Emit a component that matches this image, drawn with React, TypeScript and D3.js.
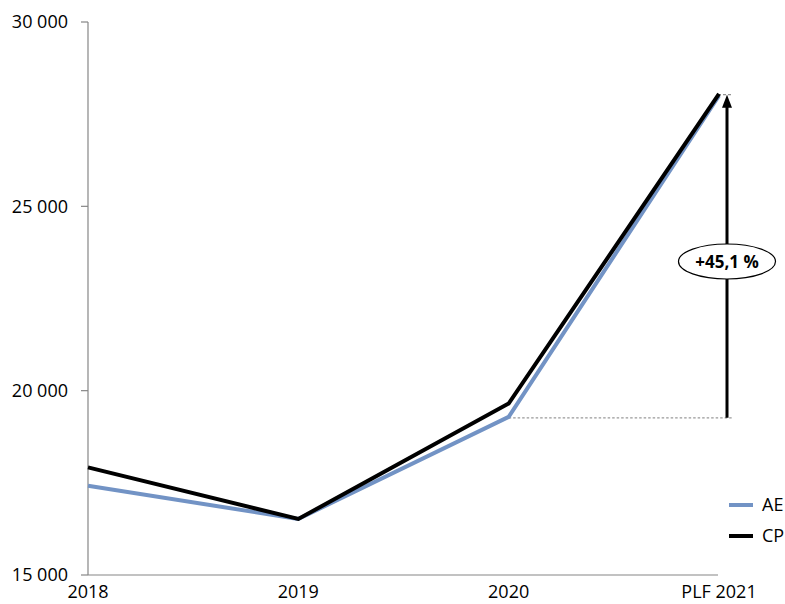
import React from "react";
import * as d3 from "d3";

const categories = ["2018", "2019", "2020", "PLF 2021"];
const aeValues = [17420, 16520, 19290, 28000];
const cpValues = [17920, 16520, 19650, 28050];
const yTicks = [15000, 20000, 25000, 30000];
const growthLabel = "+45,1 %";

const W = 785;
const H = 604;
const FONT = "'Open Sans', 'DejaVu Sans', sans-serif";

export default function App() {
  const x = d3.scalePoint<string>().domain(categories).range([88, 719]);
  const y = d3.scaleLinear().domain([15000, 30000]).range([575, 22]);
  const fmt = (v: number) => d3.format(",")(v).replace(/,/g, " ");
  const line = d3
    .line<number>()
    .x((_, i) => x(categories[i]) as number)
    .y((d) => y(d));

  const arrowX = 727;
  const yBase = y(aeValues[2]);
  const yTop = y(aeValues[3]);

  return (
    <svg
      width={W}
      height={H}
      style={{ position: "absolute", left: 0, top: 0, background: "#fff" }}
      fontFamily={FONT}
    >
      {/* axes */}
      <line x1={88} x2={88} y1={y(30000)} y2={y(15000)} stroke="#868686" strokeWidth={1.2} />
      <line x1={88} x2={718} y1={y(15000)} y2={y(15000)} stroke="#868686" strokeWidth={1.2} />
      {yTicks.map((t) => (
        <g key={t}>
          <line x1={81} x2={88} y1={y(t)} y2={y(t)} stroke="#868686" strokeWidth={1.2} />
          <text x={68} y={y(t)} dy="0.36em" textAnchor="end" fontSize={18} fill="#000">
            {fmt(t)}
          </text>
        </g>
      ))}
      {categories.map((c) => (
        <text key={c} x={x(c)} y={598} textAnchor="middle" fontSize={18} fill="#000">
          {c}
        </text>
      ))}
      {/* annotation guides */}
      <line
        x1={x("2020")}
        x2={732}
        y1={yBase + 1}
        y2={yBase + 1}
        stroke="#999"
        strokeWidth={1.2}
        strokeDasharray="2.5,2"
      />
      <line x1={718} x2={733} y1={yTop - 1} y2={yTop - 1} stroke="#777" strokeWidth={1} strokeDasharray="3,2" />
      {/* series */}
      <path d={line(aeValues) || ""} fill="none" stroke="#7293c5" strokeWidth={4} strokeLinejoin="round" />
      <path d={line(cpValues) || ""} fill="none" stroke="#000" strokeWidth={4} strokeLinejoin="miter" />
      {/* arrow */}
      <line x1={arrowX} x2={arrowX} y1={yBase + 1} y2={yTop + 11} stroke="#000" strokeWidth={3} />
      <path
        d={`M${arrowX - 5},${yTop + 12} L${arrowX},${yTop - 1} L${arrowX + 5},${yTop + 12} Z`}
        fill="#000"
      />
      <ellipse cx={arrowX} cy={261.5} rx={48.5} ry={17.5} fill="#fff" stroke="#000" strokeWidth={1.2} />
      <text x={arrowX} y={261.5} dy="0.36em" textAnchor="middle" fontSize={17} fontWeight="bold" fill="#000">
        {growthLabel}
      </text>
      {/* legend */}
      <line x1={729} x2={753} y1={505} y2={505} stroke="#7293c5" strokeWidth={4} />
      <text x={762} y={505} dy="0.36em" fontSize={18} fill="#000">AE</text>
      <line x1={729} x2={753} y1={536} y2={536} stroke="#000" strokeWidth={4} />
      <text x={762} y={536} dy="0.36em" fontSize={18} fill="#000">CP</text>
    </svg>
  );
}
